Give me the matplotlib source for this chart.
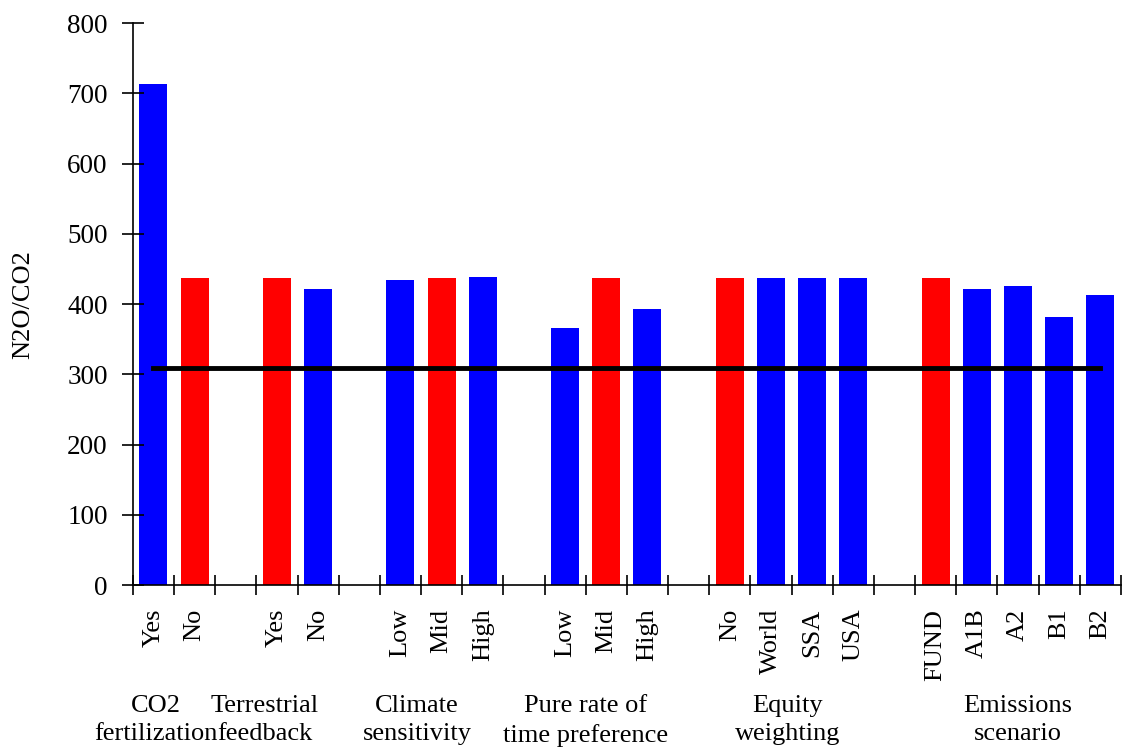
import numpy as np
import matplotlib.pyplot as plt
from matplotlib.ticker import FixedLocator

plt.rcParams['font.family'] = ['Liberation Serif', 'DejaVu Serif']

# group titles and the bars inside each group
group_names = ["CO2\nfertilization", "Terrestrial\nfeedback", "Climate\nsensitivity",
               "Pure rate of\ntime preference", "Equity\nweighting", "Emissions\nscenario"]
co2_labels = ["Yes", "No"]
co2_values = [714, 437]
terr_labels = ["Yes", "No"]
terr_values = [437, 422]
clim_labels = ["Low", "Mid", "High"]
clim_values = [435, 437, 439]
prtp_labels = ["Low", "Mid", "High"]
prtp_values = [366, 437, 393]
equity_labels = ["No", "World", "SSA", "USA"]
equity_values = [437, 437, 437, 437]
emis_labels = ["FUND", "A1B", "A2", "B1", "B2"]
emis_values = [437, 422, 426, 382, 413]
# which bar in each group is the base case (drawn red)
base_index = [1, 0, 1, 1, 0, 0]
reference_value = 309

all_labels = [co2_labels, terr_labels, clim_labels, prtp_labels, equity_labels, emis_labels]
all_values = [co2_values, terr_values, clim_values, prtp_values, equity_values, emis_values]

# lay the bars out with one empty slot between groups
xs, heights, colors, tick_text = [], [], [], []
pos = 0
for g, (labs, vals) in enumerate(zip(all_labels, all_values)):
    for i, (lab, v) in enumerate(zip(labs, vals)):
        xs.append(pos)
        heights.append(v)
        colors.append('#ff0000' if i == base_index[g] else '#0000ff')
        tick_text.append(lab)
        pos += 1
    pos += 1
n_slots = pos - 1

fig = plt.figure(figsize=(11.26, 7.51), dpi=100)
ax = fig.add_axes([0.118, 0.221, 0.8775, 0.748])

ax.bar(xs, heights, width=0.68, color=colors, edgecolor='none')
ax.plot([xs[0], xs[-1]], [reference_value, reference_value], color='black',
        lw=3.5, solid_capstyle='projecting')

ax.set_xlim(-0.5, n_slots - 0.5)
ax.set_ylim(0, 800)
ax.set_yticks(np.arange(0, 801, 100))
ax.set_ylabel("N2O/CO2", fontsize=19, labelpad=24)

ax.set_xticks(xs)
ax.set_xticklabels(tick_text, rotation=90, fontsize=19)
ax.xaxis.set_minor_locator(FixedLocator(np.arange(-0.5, n_slots, 1.0)))
ax.tick_params(axis='x', which='major', length=0, pad=17)
ax.tick_params(axis='x', which='minor', direction='inout', length=15, width=1.2)
ax.tick_params(axis='y', direction='inout', length=16, width=1.2, labelsize=19.5, pad=10)

for s in ['top', 'right']:
    ax.spines[s].set_visible(False)
for s in ['left', 'bottom']:
    ax.spines[s].set_linewidth(1.2)

# group titles under the tick labels
group_x = [0.06, 2.7, 6.4, 10.5, 15.4, 21.0]
for gx, name in zip(group_x, group_names):
    ax.text(gx, -0.195, name, transform=ax.get_xaxis_transform(), ha='center',
            va='top', fontsize=19, multialignment='center', linespacing=1.4)

fig.savefig("out.png", dpi=100)
